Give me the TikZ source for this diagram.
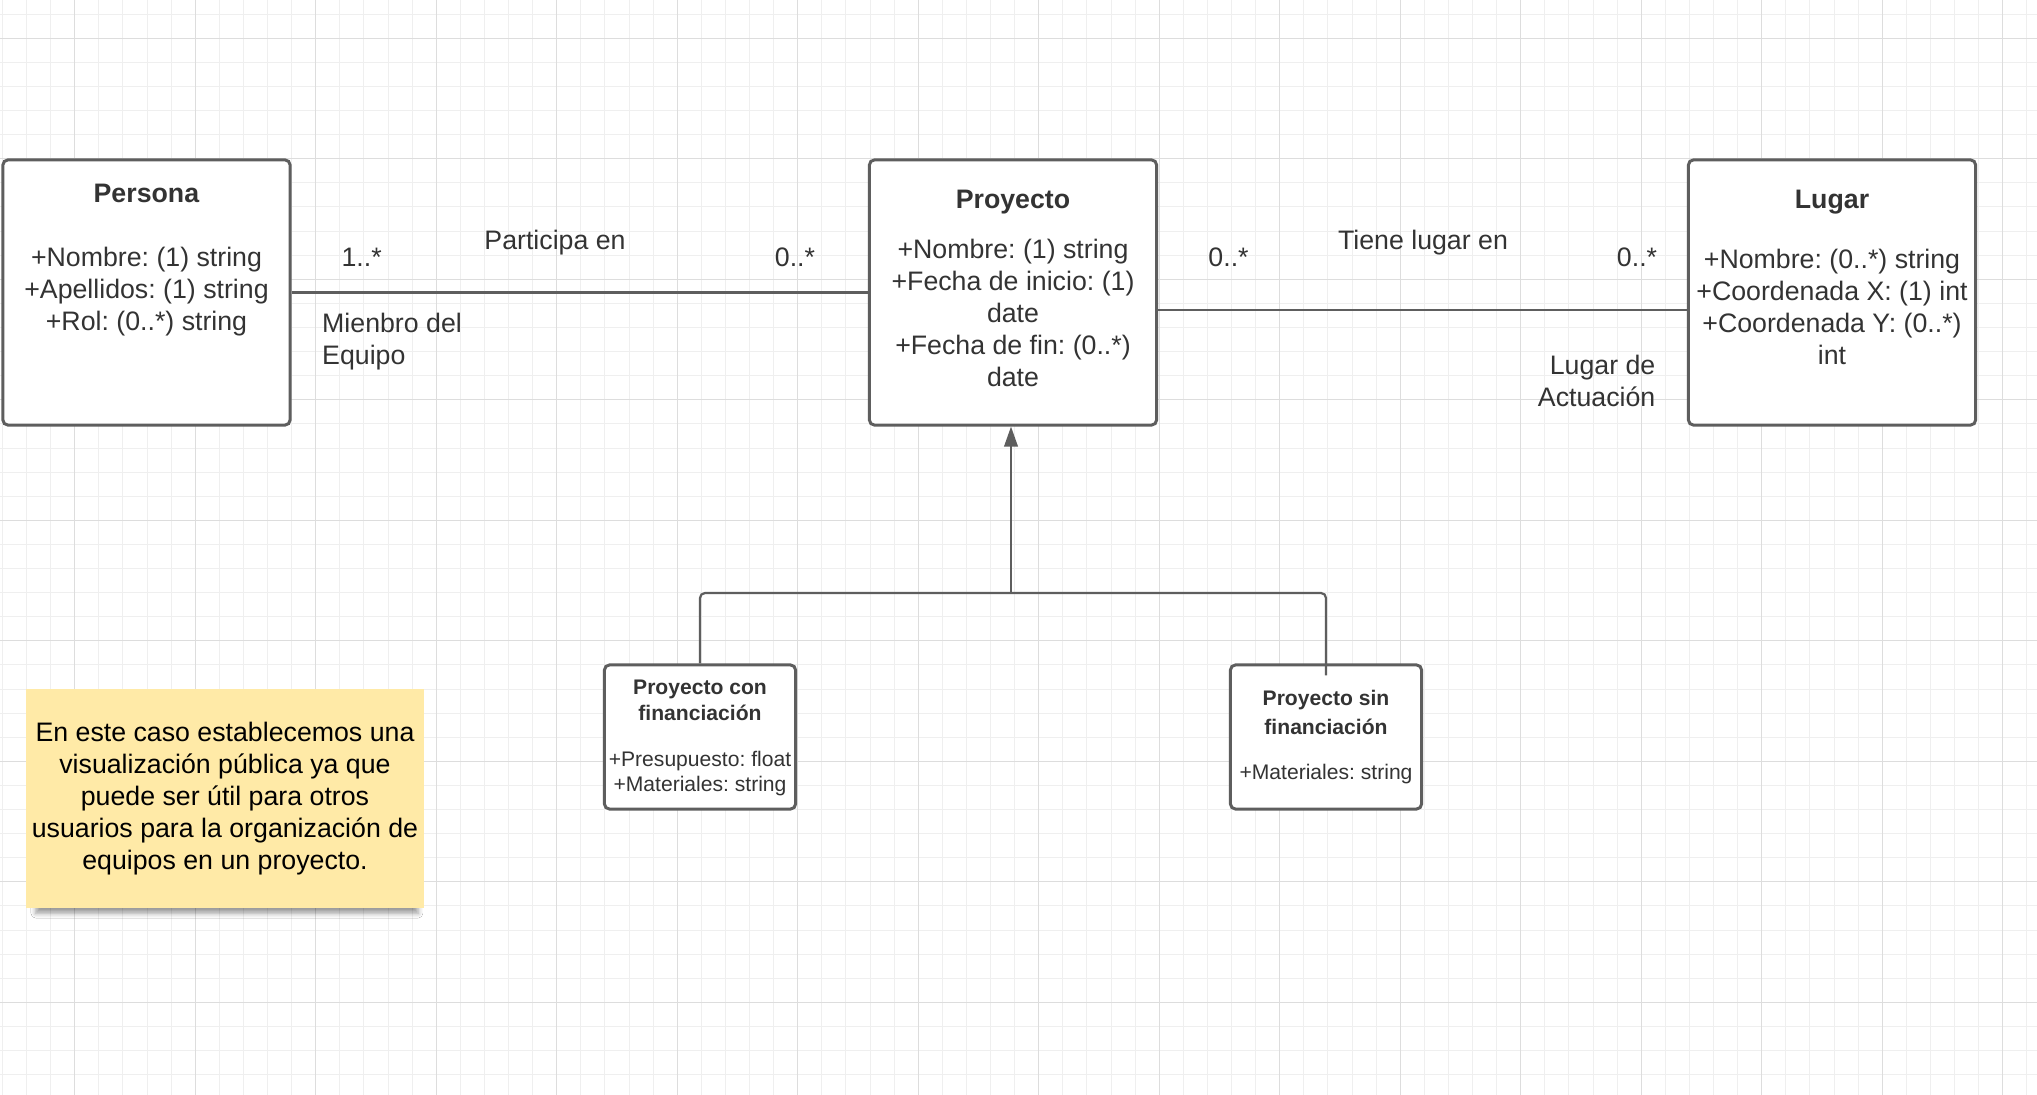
\documentclass[tikz,border=0pt]{standalone}
\usepackage{fontspec}
\setmainfont{Liberation Sans}
\usetikzlibrary{arrows.meta,shadows.blur}

\definecolor{linegray}{HTML}{5E5E5E}
\definecolor{textgray}{HTML}{333333}
\definecolor{gridminor}{HTML}{EFEFEF}
\definecolor{gridmajor}{HTML}{DDDDDD}
\definecolor{notefill}{HTML}{FFEAA7}

\begin{document}
\frenchspacing
\begin{tikzpicture}[x=0.01cm, y=-0.01cm,
        clase/.style={draw=linegray, line width=0.85pt, fill=white, rounded corners=0.05cm,
            minimum width=2.87cm, minimum height=2.65cm},
        subclase/.style={clase, minimum width=1.91cm, minimum height=1.44cm},
        titulo/.style={text=textgray, inner sep=0pt, align=center, font=\fontsize{7.6}{9.1}\selectfont\bfseries},
        atributos/.style={text=textgray, inner sep=0pt, align=center, font=\fontsize{7.6}{9.1}\selectfont},
        titulochico/.style={titulo, font=\fontsize{6}{7.3}\selectfont\bfseries},
        atributoschico/.style={atributos, font=\fontsize{6}{7.1}\selectfont},
        etiqueta/.style={text=textgray, inner sep=0pt, font=\fontsize{7.6}{9.1}\selectfont},
        conector/.style={draw=linegray, line width=0.63pt},
        nota/.style={fill=notefill, inner sep=0pt, minimum width=3.98cm, minimum height=2.19cm, align=center,
            font=\fontsize{7.6}{9.1}\selectfont,
            blur shadow={shadow xshift=0.02cm, shadow yshift=-0.1cm, shadow scale=0.96,
                shadow blur radius=0.05cm, shadow opacity=40}}]
        \useasboundingbox (0,0) rectangle (2037,1095);
        \fill[white] (0,0) rectangle (2037,1095);
        % cuadricula de fondo
        \foreach \i in {0,...,84}
            \draw[gridminor, line width=0.28pt] ({2.4+24.1*\i},0) -- ({2.4+24.1*\i},1095);
        \foreach \j in {0,...,44}
            \draw[gridminor, line width=0.28pt] (0,{14.2+24.1*\j}) -- (2037,{14.2+24.1*\j});
        \foreach \i in {0,...,16}
            \draw[gridmajor, line width=0.3pt] ({74.7+120.5*\i},0) -- ({74.7+120.5*\i},1095);
        \foreach \j in {0,...,8}
            \draw[gridmajor, line width=0.3pt] (0,{38.3+120.5*\j}) -- (2037,{38.3+120.5*\j});

        \node[clase] (persona) at (146.5,292.5) {};
        \node[clase] (proyecto) at (1013,292.5) {};
        \node[clase] (lugar) at (1832,292.5) {};
        \node[subclase] (con) at (700,737) {};
        \node[subclase] (sin) at (1326,737) {};

        \node[titulo] (personaTit) at (146.4,193.3) {Persona};
        \node[atributos] (personaAtr) at (146.5,291.5) {+Nombre: (1) string\\+Apellidos: (1) string\\+Rol: (0..*) string};
        \node[titulo] (proyectoTit) at (1013,202.5) {Proyecto};
        \node[atributos] (proyectoAtr) at (1013,312.5) {+Nombre: (1) string\\+Fecha de inicio: (1)\\date\\+Fecha de fin: (0..*)\\date};
        \node[titulo] (lugarTit) at (1832,202.5) {Lugar};
        \node[atributos] (lugarAtr) at (1832,306.7) {+Nombre: (0..*) string\\+Coordenada X: (1) int\\+Coordenada Y: (0..*)\\int};
        \node[titulochico] (conTit) at (700,700.5) {Proyecto con\\financiación};
        \node[atributoschico] (conAtr) at (700,773.2) {+Presupuesto: float\\+Materiales: string};
        \node[titulochico, font=\fontsize{6}{8.25}\selectfont\bfseries] (sinTit) at (1326,712) {Proyecto sin\\financiación};
        \node[atributoschico] (sinAtr) at (1326,774) {+Materiales: string};

        % asociaciones
        \draw[conector] (persona.east) -- (proyecto.west);
        \node[etiqueta] (multPersona) at (361.6,257) {1..*};
        \node[etiqueta] (participa) at (555,243) {Participa en};
        \node[etiqueta] (multProyecto) at (795,257) {0..*};
        \node[etiqueta, align=left, anchor=west] (rolPersona) at (321.5,342) {Mienbro del\\Equipo};

        \draw[conector] ([yshift=-0.175cm]proyecto.east) -- ([yshift=-0.175cm]lugar.west);
        \node[etiqueta] (multProyecto2) at (1228.5,257) {0..*};
        \node[etiqueta] (tieneLugar) at (1423,243) {Tiene lugar en};
        \node[etiqueta] (multLugar) at (1637,257) {0..*};
        \node[etiqueta, align=right, anchor=east] (rolLugar) at (1656,381) {Lugar de\\Actuación};

        % herencia
        \coordinate (union) at (1011,593);
        \draw[conector, rounded corners=0.05cm] (con.north) |- (union) -| ([yshift=-0.12cm]sin.north);
        \draw[conector, -{Triangle[length=0.2cm, width=0.135cm]}] (union) -- (union |- proyecto.south);

        \node[nota] (nota) at (225,798.5) {En este caso establecemos una\\visualización pública ya que\\puede ser útil para otros\\usuarios para la organización de\\equipos en un proyecto.};
    \end{tikzpicture}
\end{document}
